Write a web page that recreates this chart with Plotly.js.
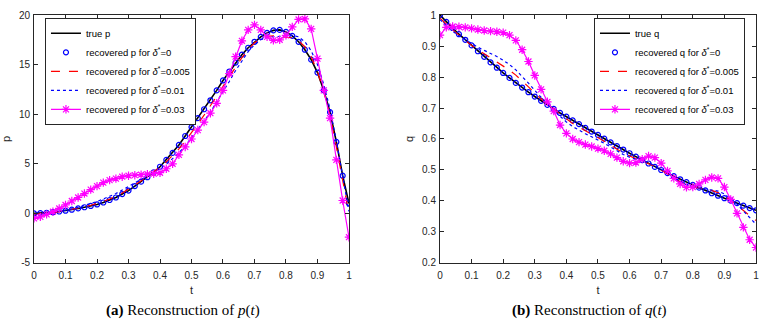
<!DOCTYPE html>
<html>
<head>
<meta charset="utf-8">
<script src="https://cdn.plot.ly/plotly-3.0.1.min.js"></script>
<style>
  html, body { margin: 0; padding: 0; background: #fff; }
  #fig { width: 770px; height: 324px; }
</style>
</head>
<body>
<div id="fig"></div>
<script>
// time grid (t)
var T = [0, 0.02, 0.04, 0.06, 0.08, 0.1, 0.12, 0.14, 0.16, 0.18,
         0.2, 0.22, 0.24, 0.26, 0.28, 0.3, 0.32, 0.34, 0.36, 0.38,
         0.4, 0.42, 0.44, 0.46, 0.48, 0.5, 0.52, 0.54, 0.56, 0.58,
         0.6, 0.62, 0.64, 0.66, 0.68, 0.7, 0.72, 0.74, 0.76, 0.78,
         0.8, 0.82, 0.84, 0.86, 0.88, 0.9, 0.92, 0.94, 0.96, 0.98, 1];

// panel (a): p(t)
var P_TRUE = [0, 0.02, 0.06, 0.12, 0.19, 0.27, 0.37, 0.5, 0.62, 0.75,
              0.9, 1.1, 1.35, 1.6, 1.95, 2.3, 2.75, 3.2, 3.65, 4.15,
              4.7, 5.4, 6.1, 6.9, 7.8, 8.7, 9.6, 10.5, 11.4, 12.4,
              13.4, 14.3, 15.2, 16.0, 16.7, 17.3, 17.8, 18.2, 18.45, 18.5,
              18.3, 17.9, 17.3, 16.5, 15.5, 14.2, 12.4, 10.2, 7.2, 3.8, 1.0];
var P_REC0 = P_TRUE; // delta*=0 sits on the true curve
var P_D005 = [-0.1, -0.05, 0.03, 0.1, 0.18, 0.28, 0.38, 0.5, 0.65, 0.82,
              1.0, 1.2, 1.45, 1.75, 2.05, 2.45, 2.85, 3.3, 3.75, 4.2,
              4.65, 5.2, 5.8, 6.5, 7.3, 8.1, 9.0, 9.9, 10.8, 11.8,
              12.8, 13.8, 14.8, 15.7, 16.5, 17.2, 17.6, 17.85, 17.9, 17.85,
              17.8, 17.7, 17.4, 16.8, 15.8, 14.3, 12.3, 9.8, 6.7, 3.3, 0.0];
var P_D01  = [-0.2, -0.1, 0.0, 0.1, 0.2, 0.32, 0.45, 0.6, 0.78, 0.98,
              1.2, 1.45, 1.7, 2.0, 2.35, 2.7, 3.05, 3.4, 3.8, 4.15,
              4.5, 4.95, 5.5, 6.1, 6.8, 7.6, 8.4, 9.3, 10.2, 11.2,
              12.2, 13.3, 14.4, 15.4, 16.3, 17.0, 17.5, 17.75, 17.8, 17.85,
              17.9, 17.95, 17.8, 17.3, 16.4, 15.0, 13.0, 10.5, 7.3, 3.7, 0.2];
var P_D03  = [-0.5, -0.35, -0.1, 0.17, 0.5, 0.85, 1.25, 1.6, 2.0, 2.4,
              2.75, 3.1, 3.35, 3.5, 3.7, 3.8, 3.85, 3.9, 3.95, 4.0,
              4.1, 4.5, 5.0, 5.9, 6.7, 7.5, 8.4, 9.2, 10.1, 11.1,
              12.4, 14.1, 15.8, 17.4, 18.5, 19.0, 18.5, 17.8, 17.45, 17.5,
              17.95, 18.8, 19.55, 19.6, 18.6, 15.6, 12.4, 9.6, 5.4, 1.3, -2.4];

// panel (b): q(t)
var Q_TRUE = [1.0, 0.978, 0.958, 0.938, 0.92, 0.902, 0.883, 0.865, 0.847, 0.83,
              0.813, 0.797, 0.781, 0.766, 0.751, 0.737, 0.723, 0.71, 0.697, 0.684,
              0.672, 0.66, 0.648, 0.636, 0.624, 0.613, 0.601, 0.589, 0.577, 0.566,
              0.554, 0.543, 0.532, 0.521, 0.51, 0.5, 0.49, 0.48, 0.47, 0.461,
              0.452, 0.443, 0.434, 0.425, 0.417, 0.409, 0.401, 0.393, 0.385, 0.377, 0.37];
var Q_REC0 = Q_TRUE;
var Q_D005 = [0.99, 0.97, 0.952, 0.935, 0.918, 0.902, 0.888, 0.875, 0.862, 0.85,
              0.837, 0.822, 0.806, 0.788, 0.768, 0.748, 0.729, 0.712, 0.696, 0.68,
              0.664, 0.65, 0.638, 0.627, 0.616, 0.605, 0.593, 0.58, 0.567, 0.555,
              0.545, 0.537, 0.53, 0.522, 0.512, 0.5, 0.487, 0.474, 0.462, 0.452,
              0.445, 0.441, 0.438, 0.434, 0.427, 0.416, 0.402, 0.386, 0.37, 0.353, 0.337];
var Q_D01  = [0.985, 0.965, 0.948, 0.933, 0.92, 0.907, 0.896, 0.886, 0.877, 0.866,
              0.854, 0.84, 0.823, 0.803, 0.78, 0.757, 0.733, 0.712, 0.692, 0.672,
              0.655, 0.64, 0.628, 0.617, 0.607, 0.597, 0.586, 0.574, 0.561, 0.55,
              0.541, 0.535, 0.529, 0.523, 0.514, 0.503, 0.49, 0.476, 0.463, 0.452,
              0.445, 0.442, 0.44, 0.437, 0.432, 0.423, 0.408, 0.39, 0.368, 0.346, 0.325];
var Q_D03  = [0.935, 0.96, 0.963, 0.962, 0.96, 0.957, 0.953, 0.95, 0.948, 0.946,
              0.943, 0.935, 0.918, 0.888, 0.85, 0.805, 0.76, 0.72, 0.69, 0.645,
              0.618, 0.6, 0.59, 0.582, 0.576, 0.569, 0.562, 0.552, 0.54, 0.528,
              0.522, 0.524, 0.535, 0.545, 0.54, 0.522, 0.497, 0.473, 0.455, 0.444,
              0.445, 0.455, 0.468, 0.476, 0.473, 0.445, 0.405, 0.36, 0.315, 0.275, 0.25];

// ticks
var X_TICKS = [0, 0.1, 0.2, 0.3, 0.4, 0.5, 0.6, 0.7, 0.8, 0.9, 1];
var X_LABELS = ['0', '0.1', '0.2', '0.3', '0.4', '0.5', '0.6', '0.7', '0.8', '0.9', '1'];
var P_TICKS = [-5, 0, 5, 10, 15, 20];
var P_LABELS = ['-5', '0', '5', '10', '15', '20'];
var Q_TICKS = [0.2, 0.3, 0.4, 0.5, 0.6, 0.7, 0.8, 0.9, 1];
var Q_LABELS = ['0.2', '0.3', '0.4', '0.5', '0.6', '0.7', '0.8', '0.9', '1'];

var DELTA = '<i>δ</i><sup>*</sup>';
var INK = '#262626';

function panel(name, ys, xa, ya, leg) {
  return [
    {x: T, y: ys[0], xaxis: xa, yaxis: ya, legend: leg, name: 'true ' + name,
     mode: 'lines', line: {color: '#000', width: 1.6}},
    {x: T, y: ys[1], xaxis: xa, yaxis: ya, legend: leg, name: 'recovered ' + name + ' for ' + DELTA + '=0',
     mode: 'markers', marker: {symbol: 'circle-open', size: 5, color: '#0000ff', line: {width: 1.2, color: '#0000ff'}}},
    {x: T, y: ys[2], xaxis: xa, yaxis: ya, legend: leg, name: 'recovered ' + name + ' for ' + DELTA + '=0.005',
     mode: 'lines', line: {color: '#ff0000', width: 1.2, dash: 'dash'}},
    {x: T, y: ys[3], xaxis: xa, yaxis: ya, legend: leg, name: 'recovered ' + name + ' for ' + DELTA + '=0.01',
     mode: 'lines', line: {color: '#0000ff', width: 1.2, dash: 'dot'}},
    {x: T, y: ys[4], xaxis: xa, yaxis: ya, legend: leg, name: 'recovered ' + name + ' for ' + DELTA + '=0.03',
     mode: 'lines+markers', line: {color: '#ff00ff', width: 1.2},
     marker: {symbol: 'asterisk-open', size: 7, color: '#ff00ff', line: {width: 1.2, color: '#ff00ff'}}}
  ];
}

var data = panel('p', [P_TRUE, P_REC0, P_D005, P_D01, P_D03], 'x', 'y', 'legend')
  .concat(panel('q', [Q_TRUE, Q_REC0, Q_D005, Q_D01, Q_D03], 'x2', 'y2', 'legend2'));

var tickFont = {family: 'Liberation Sans, Arial, sans-serif', size: 10, color: INK};

function axis(dom, range, vals, labels, title, anchor, isX) {
  return {
    domain: dom, range: range, anchor: anchor,
    tickmode: 'array', tickvals: vals, ticktext: labels,
    ticks: 'inside', ticklen: 4, tickwidth: 1, tickcolor: INK,
    showline: true, linecolor: INK, linewidth: 1, mirror: 'ticks',
    showgrid: false, zeroline: false, tickfont: tickFont,
    ticklabelstandoff: isX ? 3 : 1,
    title: {text: title, font: {family: 'Liberation Sans, Arial, sans-serif', size: 11, color: INK},
            standoff: isX ? 6 : 6}
  };
}

var legendBase = {
  font: {family: 'Liberation Sans, Arial, sans-serif', size: 9.5, color: '#000'},
  bgcolor: '#fff', bordercolor: INK, borderwidth: 1,
  y: 0.945, yanchor: 'top', itemwidth: 30, tracegroupgap: 0
};

var yDom = [0.1883, 0.9537];
var layout = {
  width: 770, height: 324,
  margin: {l: 0, r: 0, t: 0, b: 0},
  paper_bgcolor: '#fff', plot_bgcolor: '#fff',
  showlegend: true,
  xaxis: axis([0.0442, 0.4532], [0, 1], X_TICKS, X_LABELS, 't', 'y', true),
  yaxis: axis(yDom, [-5, 20], P_TICKS, P_LABELS, 'p', 'x', false),
  xaxis2: axis([0.5714, 0.9818], [0, 1], X_TICKS, X_LABELS, 't', 'y2', true),
  yaxis2: axis(yDom, [0.2, 1], Q_TICKS, Q_LABELS, 'q', 'x2', false),
  legend: Object.assign({}, legendBase, {x: 0.0584, xanchor: 'left'}),
  legend2: Object.assign({}, legendBase, {x: 0.9675, xanchor: 'right'}),
  annotations: [
    {text: '<b>(a)</b> Reconstruction of <i>p</i>(<i>t</i>)', xref: 'paper', yref: 'paper',
     x: 0.2377, y: 0.043, xanchor: 'center', yanchor: 'middle', showarrow: false,
     font: {family: 'Liberation Serif, Times New Roman, serif', size: 15, color: '#000'}},
    {text: '<b>(b)</b> Reconstruction of <i>q</i>(<i>t</i>)', xref: 'paper', yref: 'paper',
     x: 0.7662, y: 0.043, xanchor: 'center', yanchor: 'middle', showarrow: false,
     font: {family: 'Liberation Serif, Times New Roman, serif', size: 15, color: '#000'}}
  ]
};

Plotly.newPlot('fig', data, layout, {staticPlot: true, displayModeBar: false});
</script>
</body>
</html>
